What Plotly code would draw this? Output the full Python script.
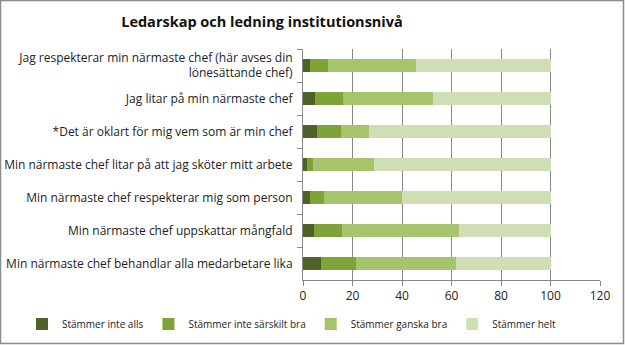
import plotly.graph_objects as go

categories = [
    "Jag respekterar min närmaste chef (här avses din<br>lönesättande chef)",
    "Jag litar på min närmaste chef",
    "*Det är oklart för mig vem som är min chef",
    "Min närmaste chef litar på att jag sköter mitt arbete",
    "Min närmaste chef respekterar mig som person",
    "Min närmaste chef uppskattar mångfald",
    "Min närmaste chef behandlar alla medarbetare lika",
]
series_names = ["Stämmer inte alls", "Stämmer inte särskilt bra", "Stämmer ganska bra", "Stämmer helt"]
inte_alls = [3.0, 4.7, 5.5, 1.5, 2.7, 4.3, 7.2]
inte_sarskilt = [7.3, 11.4, 9.8, 2.7, 5.8, 11.5, 14.2]
ganska_bra = [35.4, 36.5, 11.3, 24.6, 31.6, 47.3, 40.5]
helt = [54.3, 47.4, 73.4, 71.2, 59.9, 36.9, 38.1]
x_ticks = [0, 20, 40, 60, 80, 100, 120]

colors = ["#4F6228", "#7EA337", "#A6C46C", "#D0DEB6"]
values = [inte_alls, inte_sarskilt, ganska_bra, helt]

W, H = 625, 345
ML, MR, MT, MB = 303, 25, 49, 65

fig = go.Figure()
for name, vals, c in zip(series_names, values, colors):
    fig.add_trace(go.Bar(y=categories, x=vals, name=name, orientation="h",
                         marker=dict(color=c, line=dict(width=0))))

pw = W - ML - MR
ph = H - MT - MB
def px_x(p):
    return (p - ML) / pw
def px_y(p):
    return (H - MB - p) / ph

fig.add_shape(type="rect", xref="paper", yref="paper",
              x0=px_x(0.5), x1=px_x(W - 1.5), y0=px_y(H - 1.5), y1=px_y(0.5),
              line=dict(color="#8C8C8C", width=1.5), layer="below")

fig.update_layout(
    width=W, height=H,
    barmode="stack", bargap=0.6,
    margin=dict(l=ML, r=MR, t=MT, b=MB, autoexpand=False),
    paper_bgcolor="white", plot_bgcolor="white",
    font=dict(family="Open Sans, Liberation Sans, sans-serif", size=12, color="#222"),
    title=dict(text="<b>Ledarskap och ledning institutionsnivå</b>", x=262 / W, xref="container",
               xanchor="center", y=1 - 22 / H, yref="container", yanchor="middle",
               font=dict(size=14.5, color="#111")),
    legend=dict(orientation="h", x=px_x(22), xref="paper", xanchor="left",
                y=px_y(324), yref="paper", yanchor="middle",
                font=dict(size=10), traceorder="normal", itemwidth=30),
    showlegend=True,
)
fig.update_xaxes(range=[0, 120], tickvals=x_ticks, showgrid=True, gridcolor="#888888", gridwidth=1,
                 showline=True, linecolor="#888888", ticks="outside", ticklen=5, tickcolor="#888888",
                 zeroline=False, tickfont=dict(size=12), automargin=False)
fig.update_yaxes(autorange="reversed", showline=True, linecolor="#888888", ticks="outside",
                 ticklen=5, tickcolor="#888888", tickson="boundaries", tickfont=dict(size=12),
                 showgrid=False, automargin=False, ticklabelstandoff=7)

fig.write_html("out.html")
